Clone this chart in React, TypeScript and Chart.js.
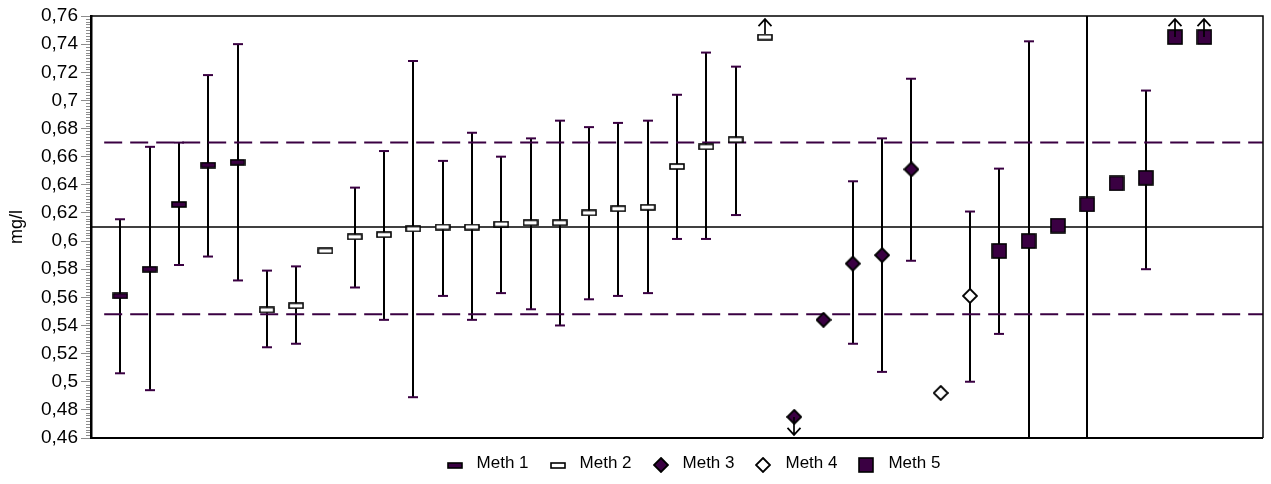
import React, { useEffect, useRef } from 'react';
import { Chart, registerables } from 'chart.js';

Chart.register(...registerables);

const PURPLE = '#3a0042';
const FONT = '"Liberation Sans", Arial, Helvetica, sans-serif';

// ---- data ----
const meth1X = [1, 2, 3, 4, 5];
const meth1Y = [0.561, 0.58, 0.626, 0.654, 0.656];
const meth1Lo = [0.506, 0.494, 0.583, 0.589, 0.572];
const meth1Hi = [0.6155, 0.667, 0.67, 0.718, 0.74];
const meth1Arrow = [0, 0, 0, 0, 0];

const meth2X = [6, 7, 8, 9, 10, 11, 12, 13, 14, 15, 16, 17, 18, 19, 20, 21, 22, 23];
const meth2Y = [0.551, 0.554, 0.593, 0.603, 0.6045, 0.6086, 0.61, 0.61, 0.612, 0.613, 0.613, 0.62, 0.623, 0.624, 0.653, 0.667, 0.672, 0.745];
const meth2Lo = [0.5245, 0.527, null, 0.567, 0.544, 0.489, 0.561, 0.544, 0.563, 0.5515, 0.54, 0.5586, 0.561, 0.563, 0.6015, 0.6015, 0.6185, null];
const meth2Hi = [0.579, 0.582, null, 0.638, 0.664, 0.728, 0.657, 0.677, 0.66, 0.673, 0.6856, 0.681, 0.684, 0.6856, 0.704, 0.734, 0.724, null];
const meth2Arrow = [0, 0, 0, 0, 0, 0, 0, 0, 0, 0, 0, 0, 0, 0, 0, 0, 0, 1];

const meth3X = [24, 25, 26, 27, 28];
const meth3Y = [0.475, 0.544, 0.584, 0.59, 0.651];
const meth3Lo = [null, null, 0.527, 0.507, 0.586];
const meth3Hi = [null, null, 0.6425, 0.673, 0.7154];
const meth3Arrow = [-1, 0, 0, 0, 0];

const meth4X = [29, 30];
const meth4Y = [0.492, 0.561];
const meth4Lo = [null, 0.5];
const meth4Hi = [null, 0.621];
const meth4Arrow = [0, 0];

const meth5X = [31, 32, 33, 34, 35, 36, 37, 38];
const meth5Y = [0.593, 0.6, 0.611, 0.626, 0.641, 0.645, 0.745, 0.745];
const meth5Lo = [0.534, 0.44, null, 0.44, null, 0.58, null, null];
const meth5Hi = [0.6515, 0.742, null, 0.78, null, 0.707, null, null];
const meth5Arrow = [0, 0, 0, 0, 0, 0, 1, 1];

const seriesLabels = ['Meth 1', 'Meth 2', 'Meth 3', 'Meth 4', 'Meth 5'];

const refMean = 0.61;
const refUpper = 0.67;
const refLower = 0.548;
const refXStart = 0;
const refDashXStart = 0.45;
const refXEnd = 40;

const yMin = 0.46;
const yMax = 0.76;
const yStep = 0.02;
const yMinorStep = 0.002;

// ---- marker images ----
function makeRect(w: number, h: number, fill: string) {
  const c = document.createElement('canvas');
  c.width = w + 2;
  c.height = h + 2;
  const g = c.getContext('2d')!;
  g.fillStyle = fill;
  g.fillRect(1, 1, w, h);
  g.strokeStyle = '#000';
  g.lineWidth = 1.6;
  g.strokeRect(1, 1, w, h);
  return c;
}
function makeDiamond(s: number, fill: string) {
  const c = document.createElement('canvas');
  c.width = s + 2;
  c.height = s + 2;
  const g = c.getContext('2d')!;
  const m = (s + 2) / 2;
  g.beginPath();
  g.moveTo(m, 1);
  g.lineTo(s + 1, m);
  g.lineTo(m, s + 1);
  g.lineTo(1, m);
  g.closePath();
  g.fillStyle = fill;
  g.fill();
  g.strokeStyle = '#000';
  g.lineWidth = 1.8;
  g.stroke();
  return c;
}

function fmt(v: number) {
  return (Math.round(v * 100) / 100).toString().replace('.', ',');
}

const errorBarPlugin = {
  id: 'errorBars',
  beforeDatasetsDraw(chart: any) {
    const { ctx, chartArea, scales } = chart;
    const x = scales.x;
    const y = scales.y;
    ctx.save();
    ctx.beginPath();
    ctx.rect(chartArea.left, chartArea.top, chartArea.right - chartArea.left, chartArea.bottom - chartArea.top);
    ctx.clip();
    chart.data.datasets.forEach((ds: any) => {
      if (!ds.errLo) return;
      ds.data.forEach((p: any, i: number) => {
        const lo = ds.errLo[i];
        const hi = ds.errHi[i];
        if (lo == null || hi == null) return;
        const px = Math.round(x.getPixelForValue(p.x));
        const pl = y.getPixelForValue(lo);
        const ph = y.getPixelForValue(hi);
        ctx.strokeStyle = '#000';
        ctx.lineWidth = 2;
        ctx.beginPath();
        ctx.moveTo(px, pl);
        ctx.lineTo(px, ph);
        ctx.stroke();
        ctx.strokeStyle = PURPLE;
        ctx.lineWidth = 2;
        [lo, hi].forEach((v: number) => {
          if (v < yMin || v > yMax) return;
          const py = y.getPixelForValue(v);
          ctx.beginPath();
          ctx.moveTo(px - 5, py);
          ctx.lineTo(px + 5, py);
          ctx.stroke();
        });
      });
    });
    ctx.restore();
  },
};

const arrowPlugin = {
  id: 'arrows',
  afterDatasetsDraw(chart: any) {
    const { ctx, scales } = chart;
    const x = scales.x;
    const y = scales.y;
    ctx.save();
    ctx.strokeStyle = '#000';
    ctx.lineWidth = 1.7;
    chart.data.datasets.forEach((ds: any) => {
      if (!ds.arrows) return;
      ds.data.forEach((p: any, i: number) => {
        const d = ds.arrows[i];
        if (!d) return;
        const px = Math.round(x.getPixelForValue(p.x));
        const py = y.getPixelForValue(p.y);
        const tip = py - d * 18;
        ctx.beginPath();
        ctx.moveTo(px, py - d * (ds.arrowStart || 0));
        ctx.lineTo(px, tip);
        ctx.moveTo(px - 6.5, tip + d * 7);
        ctx.lineTo(px, tip);
        ctx.lineTo(px + 6.5, tip + d * 7);
        ctx.stroke();
      });
    });
    ctx.restore();
  },
};

const frameMinorPlugin = {
  id: 'frameMinor',
  afterDraw(chart: any) {
    const { ctx, chartArea, scales } = chart;
    const y = scales.y;
    ctx.save();
    ctx.strokeStyle = '#8c8c8c';
    ctx.lineWidth = 1;
    const n = Math.round((yMax - yMin) / yMinorStep);
    const per = Math.round(yStep / yMinorStep);
    for (let k = 0; k <= n; k++) {
      if (k % per === 0) continue;
      const py = Math.round(y.getPixelForValue(yMin + k * yMinorStep)) + 0.5;
      ctx.beginPath();
      ctx.moveTo(chartArea.left - 5, py);
      ctx.lineTo(chartArea.left - 1, py);
      ctx.stroke();
    }
    ctx.strokeStyle = '#000';
    ctx.lineWidth = 1.5;
    ctx.beginPath();
    ctx.moveTo(chartArea.left, chartArea.top);
    ctx.lineTo(chartArea.right, chartArea.top);
    ctx.lineTo(chartArea.right, chartArea.bottom);
    ctx.stroke();
    ctx.lineWidth = 2.2;
    ctx.beginPath();
    ctx.moveTo(chartArea.left, chartArea.bottom);
    ctx.lineTo(chartArea.right, chartArea.bottom);
    ctx.stroke();
    ctx.restore();
  },
};

const legendPlugin = {
  id: 'customLegend',
  afterDraw(chart: any) {
    const { ctx } = chart;
    const items = chart.data.datasets.filter((d: any) => d.legendImg);
    ctx.save();
    ctx.font = '17px ' + FONT;
    ctx.fillStyle = '#000';
    ctx.textBaseline = 'middle';
    const markerW = 14;
    const gap = 15;
    const spacing = 22;
    const widths = items.map((d: any) => markerW + gap + ctx.measureText(d.label).width);
    const total = widths.reduce((a: number, b: number) => a + b, 0) + spacing * (items.length - 1);
    let cx = 694 - total / 2;
    const cy = 463;
    items.forEach((d: any, i: number) => {
      const img = d.legendImg;
      ctx.drawImage(img, Math.round(cx + markerW / 2 - img.width / 2), Math.round(cy + 2 - img.height / 2));
      ctx.fillText(d.label, cx + markerW + gap, cy);
      cx += widths[i] + spacing;
    });
    ctx.restore();
  },
};

function pts(xs: number[], ys: number[]) {
  return xs.map((x, i) => ({ x, y: ys[i] }));
}

export default function App() {
  const ref = useRef<HTMLCanvasElement | null>(null);
  useEffect(() => {
    if (!ref.current) return;
    const m1 = makeRect(14, 5, PURPLE);
    const m2 = makeRect(14, 5, '#ffffff');
    const m3 = makeDiamond(14, PURPLE);
    const m4 = makeDiamond(14, '#ffffff');
    const m5 = makeRect(14, 14, PURPLE);
    const scatter = (label: string, xs: number[], ys: number[], lo: any[], hi: any[], ar: number[], img: any, arrowStart: number) => ({
      type: 'scatter',
      label,
      data: pts(xs, ys),
      pointStyle: img,
      pointRadius: 7,
      showLine: false,
      errLo: lo,
      errHi: hi,
      arrows: ar,
      arrowStart,
      legendImg: img,
      order: 0,
    });
    const refLine = (yv: number, x0: number, color: string, dash: number[], w: number) => ({
      type: 'line',
      data: [{ x: x0, y: yv }, { x: refXEnd, y: yv }],
      borderColor: color,
      borderWidth: w,
      borderDash: dash,
      pointRadius: 0,
      fill: false,
      order: 5,
    });
    const chart = new Chart(ref.current, {
      type: 'scatter',
      data: {
        datasets: [
          refLine(refMean, refXStart, '#000', [], 1.5),
          refLine(refUpper, refDashXStart, PURPLE, [18, 8], 2),
          refLine(refLower, refDashXStart, PURPLE, [18, 8], 2),
          scatter(seriesLabels[0], meth1X, meth1Y, meth1Lo, meth1Hi, meth1Arrow, m1, 0),
          scatter(seriesLabels[1], meth2X, meth2Y, meth2Lo, meth2Hi, meth2Arrow, m2, 3),
          scatter(seriesLabels[2], meth3X, meth3Y, meth3Lo, meth3Hi, meth3Arrow, m3, 0),
          scatter(seriesLabels[3], meth4X, meth4Y, meth4Lo, meth4Hi, meth4Arrow, m4, 0),
          scatter(seriesLabels[4], meth5X, meth5Y, meth5Lo, meth5Hi, meth5Arrow, m5, 0),
        ] as any,
      },
      options: {
        responsive: false,
        animation: false,
        events: [],
        layout: { padding: { top: 16, right: 6, bottom: 46, left: 0 } },
        plugins: { legend: { display: false }, tooltip: { enabled: false } },
        scales: {
          x: { type: 'linear', min: 0, max: 40, display: false },
          y: {
            type: 'linear',
            min: yMin,
            max: yMax,
            ticks: {
              stepSize: yStep,
              callback: (v: any) => fmt(Number(v)),
              color: '#000',
              font: { family: FONT, size: 19 },
              padding: 3,
            },
            grid: { drawOnChartArea: false, drawTicks: true, tickLength: 10, color: '#8c8c8c', lineWidth: 1 },
            border: { display: true, color: '#000', width: 2.5 },
            title: { display: true, text: 'mg/l', color: '#000', font: { family: FONT, size: 18 }, padding: { top: 6, bottom: 0 } },
            afterFit: (s: any) => {
              s.width = 91;
            },
          },
        },
      } as any,
      plugins: [errorBarPlugin, arrowPlugin, frameMinorPlugin, legendPlugin],
    });
    return () => chart.destroy();
  }, []);
  return (
    <div style={{ position: 'absolute', left: 0, top: 0, width: 1271, height: 484, background: '#fff' }}>
      <canvas ref={ref} width={1271} height={484} style={{ display: 'block' }} />
    </div>
  );
}
